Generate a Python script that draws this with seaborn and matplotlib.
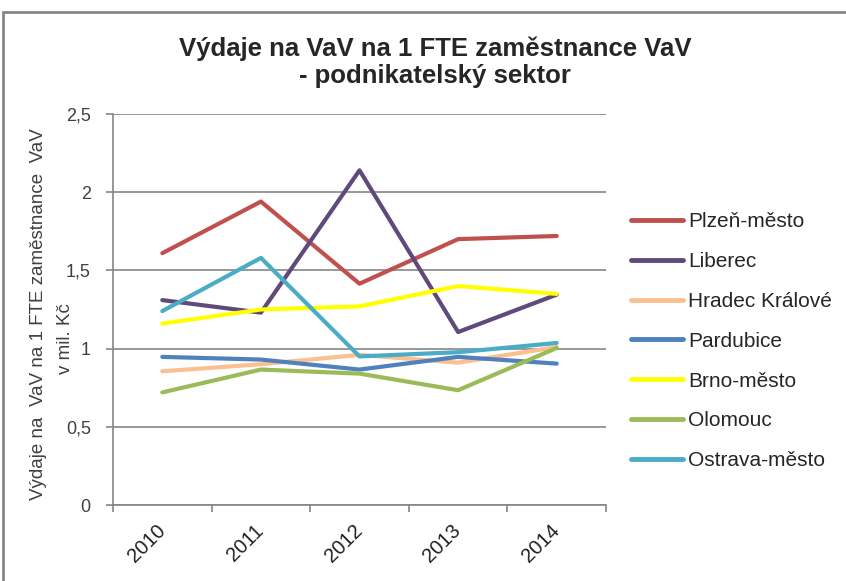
import pandas as pd
import matplotlib.pyplot as plt
import seaborn as sns
from matplotlib.patches import Rectangle

# Data
years = ['2010', '2011', '2012', '2013', '2014']
plzen = [1.61, 1.94, 1.415, 1.70, 1.72]
liberec = [1.31, 1.23, 2.14, 1.106, 1.345]
hradec = [0.855, 0.90, 0.96, 0.91, 1.01]
pardubice = [0.947, 0.93, 0.866, 0.947, 0.904]
brno = [1.16, 1.25, 1.27, 1.40, 1.35]
olomouc = [0.72, 0.866, 0.84, 0.734, 1.004]
ostrava = [1.24, 1.58, 0.95, 0.977, 1.036]

regions = ['Plzeň-město', 'Liberec', 'Hradec Králové', 'Pardubice',
           'Brno-město', 'Olomouc', 'Ostrava-město']
series = [plzen, liberec, hradec, pardubice, brno, olomouc, ostrava]
colors = ['#C0504D', '#604A7B', '#FAC090', '#4F81BD', '#FFFF00', '#9BBB59', '#4BACC6']

# Long format for seaborn
rows = []
for name, vals in zip(regions, series):
    for i, v in enumerate(vals):
        rows.append({'pos': i, 'region': name, 'value': v})
df = pd.DataFrame(rows)

sns.set_style('white')
plt.rcParams['font.family'] = ['Liberation Sans', 'DejaVu Sans']

fig = plt.figure(figsize=(8.46, 5.81), dpi=100)
ax = fig.add_axes([0.1336, 0.1308, 0.5827, 0.673])

sns.lineplot(data=df, x='pos', y='value', hue='region', hue_order=regions,
             palette=colors, linewidth=3, ax=ax, sort=False)

# Axes formatting
ax.set_xlim(-0.5, 4.5)
ax.set_ylim(0, 2.5)
ax.set_yticks([0, 0.5, 1, 1.5, 2, 2.5])
ax.set_yticklabels(['0', '0,5', '1', '1,5', '2', '2,5'], fontsize=13, color='#404040')
ax.set_xticks([-0.5, 0.5, 1.5, 2.5, 3.5, 4.5])
ax.set_xticklabels([])
ax.set_xticks(range(5), minor=True)
ax.set_xticklabels(years, minor=True, rotation=45, ha='right', va='center',
                   rotation_mode='anchor', fontsize=14.5, color='#202020')
ax.tick_params(axis='x', which='minor', length=0, pad=16)
ax.tick_params(axis='x', which='major', length=5, color='#868686', width=1.2, bottom=True)
ax.tick_params(axis='y', length=5, color='#868686', width=1.2, left=True, pad=11)
ax.grid(axis='y', color='#868686', linewidth=1.2)
for side in ['top', 'right']:
    ax.spines[side].set_visible(False)
for side in ['left', 'bottom']:
    ax.spines[side].set_color('#868686')
    ax.spines[side].set_linewidth(1.2)
ax.set_xlabel('')
ax.set_ylabel('')

# Y axis title, two lines placed separately like the original
fig.text(0.046, 0.4596, 'Výdaje na  VaV na 1 FTE zaměstnance  VaV', rotation=90,
         ha='center', va='center', fontsize=13.5, color='#404040')
fig.text(0.077, 0.418, 'v mil. Kč', rotation=90,
         ha='center', va='center', fontsize=13.5, color='#404040')

# Legend without frame
leg = ax.legend(loc='center left', bbox_to_anchor=(1.013, 0.419), frameon=False,
                fontsize=15, handlelength=2.5, handletextpad=0.25, labelspacing=1.0)
for line in leg.get_lines():
    line.set_linewidth(3.5)

# Title
fig.text(0.514, 0.893, 'Výdaje na VaV na 1 FTE zaměstnance VaV\n- podnikatelský sektor',
         ha='center', va='center', fontsize=18.5, fontweight='bold', linespacing=1.12)

# Outer chart border
fig.patches.append(Rectangle((0.004, -0.1), 1.2, 1.079, transform=fig.transFigure,
                             fill=False, edgecolor='#868686', linewidth=2))

plt.savefig('out.png', dpi=100)
